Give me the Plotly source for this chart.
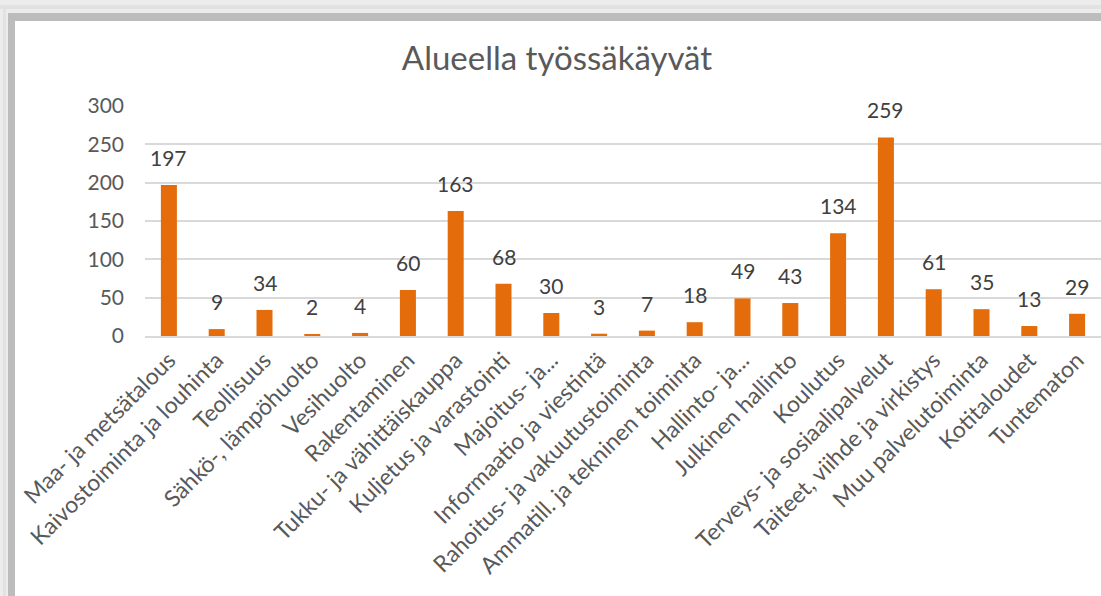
import plotly.graph_objects as go

categories = [
    "Maa- ja metsätalous", "Kaivostoiminta ja louhinta", "Teollisuus",
    "Sähkö-, lämpöhuolto", "Vesihuolto", "Rakentaminen",
    "Tukku- ja vähittäiskauppa", "Kuljetus ja varastointi", "Majoitus- ja...",
    "Informaatio ja viestintä", "Rahoitus- ja vakuutustoiminta",
    "Ammatill. ja tekninen toiminta", "Hallinto- ja...", "Julkinen hallinto",
    "Koulutus", "Terveys- ja sosiaalipalvelut", "Taiteet, viihde ja virkistys",
    "Muu palvelutoiminta", "Kotitaloudet", "Tuntematon",
]
values = [197, 9, 34, 2, 4, 60, 163, 68, 30, 3, 7, 18, 49, 43, 134, 259, 61, 35, 13, 29]
y_ticks = [0, 50, 100, 150, 200, 250, 300]

W, H = 1101, 596
L, R, T, B = 145, 0, 106, 260
FONT = "Lato, Carlito, Calibri, sans-serif"
GRAY = "#595959"

fig = go.Figure(go.Bar(
    x=categories, y=values,
    marker=dict(color="#E46C0A", line=dict(width=0)),
    width=0.335,
    hoverinfo="x+y",
))

for c, v in zip(categories, values):
    fig.add_annotation(x=c, y=v, text=str(v), showarrow=False,
                       yanchor="bottom", yshift=13,
                       font=dict(family=FONT, size=21, color="#404040"))

def px2paper_x(px):
    return (px - L) / (W - L - R)

def px2paper_y(py):
    return (H - B - py) / (H - T - B)

shapes = []
def rect(x0, y0, x1, y1, color):
    shapes.append(dict(type="rect", xref="paper", yref="paper",
                       x0=px2paper_x(x0), x1=px2paper_x(x1),
                       y0=px2paper_y(y1), y1=px2paper_y(y0),
                       fillcolor=color, line=dict(width=0), layer="below"))

rect(0, 0, W, 13, "#ececec")
rect(0, 0, 8, H, "#ececec")
rect(0, 5, W, 9, "#e2e2e2")
rect(3, 5, 6, H, "#e2e2e2")
rect(8, 13, W, 21, "#bcbcbc")
rect(8, 13, 15, H, "#bcbcbc")

fig.update_layout(
    width=W, height=H,
    margin=dict(l=L, r=R, t=T, b=B, autoexpand=False),
    paper_bgcolor="white", plot_bgcolor="white",
    shapes=shapes,
    showlegend=False,
    title=dict(text="Alueella työssäkäyvät", x=557 / W, xref="container",
               xanchor="center", y=1 - 58 / H, yref="container", yanchor="middle",
               font=dict(family=FONT, size=33, color=GRAY)),
    xaxis=dict(tickangle=-45, tickfont=dict(family=FONT, size=23, color=GRAY),
               showgrid=False, showline=True, linecolor="#d9d9d9", linewidth=1.5,
               ticks="", range=[-0.5, len(categories) - 0.5], automargin=False),
    yaxis=dict(range=[0, 300], tickvals=y_ticks,
               tickfont=dict(family=FONT, size=21, color=GRAY),
               showgrid=True, gridcolor="#d9d9d9", gridwidth=1.5,
               zeroline=False, showline=False, ticks="",
               ticklabelstandoff=20, automargin=False),
    bargap=0.66,
    font=dict(family=FONT),
)

fig.write_html(
    "out.html",
    config={"displayModeBar": False},
    post_script="document.body.style.margin='0';document.body.style.overflow='hidden';",
)
